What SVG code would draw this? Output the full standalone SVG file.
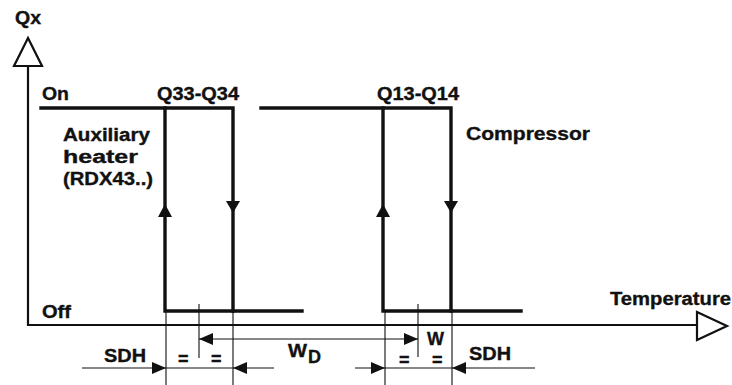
<svg xmlns="http://www.w3.org/2000/svg" width="732" height="385" viewBox="0 0 732 385">
<style>
.t{font-family:"Liberation Sans",Arial,sans-serif;font-weight:bold;font-size:18px;fill:#111;stroke:#111;stroke-width:0.35}
.axis{stroke:#111;stroke-width:2.2;fill:none}
.tri{stroke:#111;stroke-width:2.2;fill:#fff;stroke-linejoin:miter}
.hy{stroke:#111;stroke-width:3.4;fill:none;stroke-linecap:square}
.thin{stroke:#111;stroke-width:1.1;fill:none}
.ah{fill:#111;stroke:none}
</style>
<rect width="732" height="385" fill="#fff"/>
<g id="axes">
  <path class="axis" d="M28 66 V325 H697"/>
  <polygon class="tri" points="28,38 14,66 42,66"/>
  <polygon class="tri" points="697,312 727,326 697,340"/>
  <text class="t" x="15" y="24" textLength="26" lengthAdjust="spacingAndGlyphs">Qx</text>
  <text class="t" x="610" y="305" textLength="121" lengthAdjust="spacingAndGlyphs">Temperature</text>
  <text class="t" x="42" y="100" textLength="27" lengthAdjust="spacingAndGlyphs">On</text>
  <text class="t" x="42" y="318" textLength="29" lengthAdjust="spacingAndGlyphs">Off</text>
</g>
<g id="heater">
  <path class="hy" d="M41 108 H233 V311"/>
  <path class="hy" d="M165 108 V311 H302"/>
  <polygon class="ah" points="165,204 158,217 172,217"/>
  <polygon class="ah" points="233,213 226,201 240,201"/>
  <text class="t" x="157" y="100" textLength="82" lengthAdjust="spacingAndGlyphs">Q33-Q34</text>
  <text class="t" x="63" y="141" textLength="87" lengthAdjust="spacingAndGlyphs">Auxiliary</text>
  <text class="t" x="63" y="163" textLength="75" lengthAdjust="spacingAndGlyphs">heater</text>
  <text class="t" x="63" y="185" textLength="90" lengthAdjust="spacingAndGlyphs">(RDX43..)</text>
</g>
<g id="compressor">
  <path class="hy" d="M261 108 H451 V311"/>
  <path class="hy" d="M383 108 V311 H521"/>
  <polygon class="ah" points="383,204 376,217 390,217"/>
  <polygon class="ah" points="451,213 444,201 458,201"/>
  <text class="t" x="377" y="100" textLength="82" lengthAdjust="spacingAndGlyphs">Q13-Q14</text>
  <text class="t" x="466" y="140" textLength="124" lengthAdjust="spacingAndGlyphs">Compressor</text>
</g>
<g id="connectors">
  <path class="thin" d="M166 311 V385 M233 311 V385 M199 304 V358 M385 311 V385 M452 311 V385 M418 304 V357"/>
  <path class="thin" d="M199 339 H418"/>
  <polygon class="ah" points="199,339 213,333 213,345"/>
  <polygon class="ah" points="418,339 404,333 404,345"/>
  <path class="thin" d="M82 368 H274"/>
  <polygon class="ah" points="166,368 152,362 152,374"/>
  <polygon class="ah" points="233,368 247,362 247,374"/>
  <path class="thin" d="M355 368 H535"/>
  <polygon class="ah" points="385,368 371,362 371,374"/>
  <polygon class="ah" points="452,368 466,362 466,374"/>
</g>
<g id="labels">
  <text class="t" x="104" y="362" textLength="42" lengthAdjust="spacingAndGlyphs">SDH</text>
  <text class="t" x="469" y="360" textLength="42" lengthAdjust="spacingAndGlyphs">SDH</text>
  <text class="t" x="178" y="365">=</text>
  <text class="t" x="211" y="365">=</text>
  <text class="t" x="399" y="366">=</text>
  <text class="t" x="432" y="366">=</text>
  <text class="t" x="427" y="345" textLength="17" lengthAdjust="spacingAndGlyphs">W</text>
  <text class="t" x="288" y="357" textLength="19" lengthAdjust="spacingAndGlyphs">W</text>
  <text class="t" x="308" y="363" textLength="13" lengthAdjust="spacingAndGlyphs">D</text>
</g>
</svg>
